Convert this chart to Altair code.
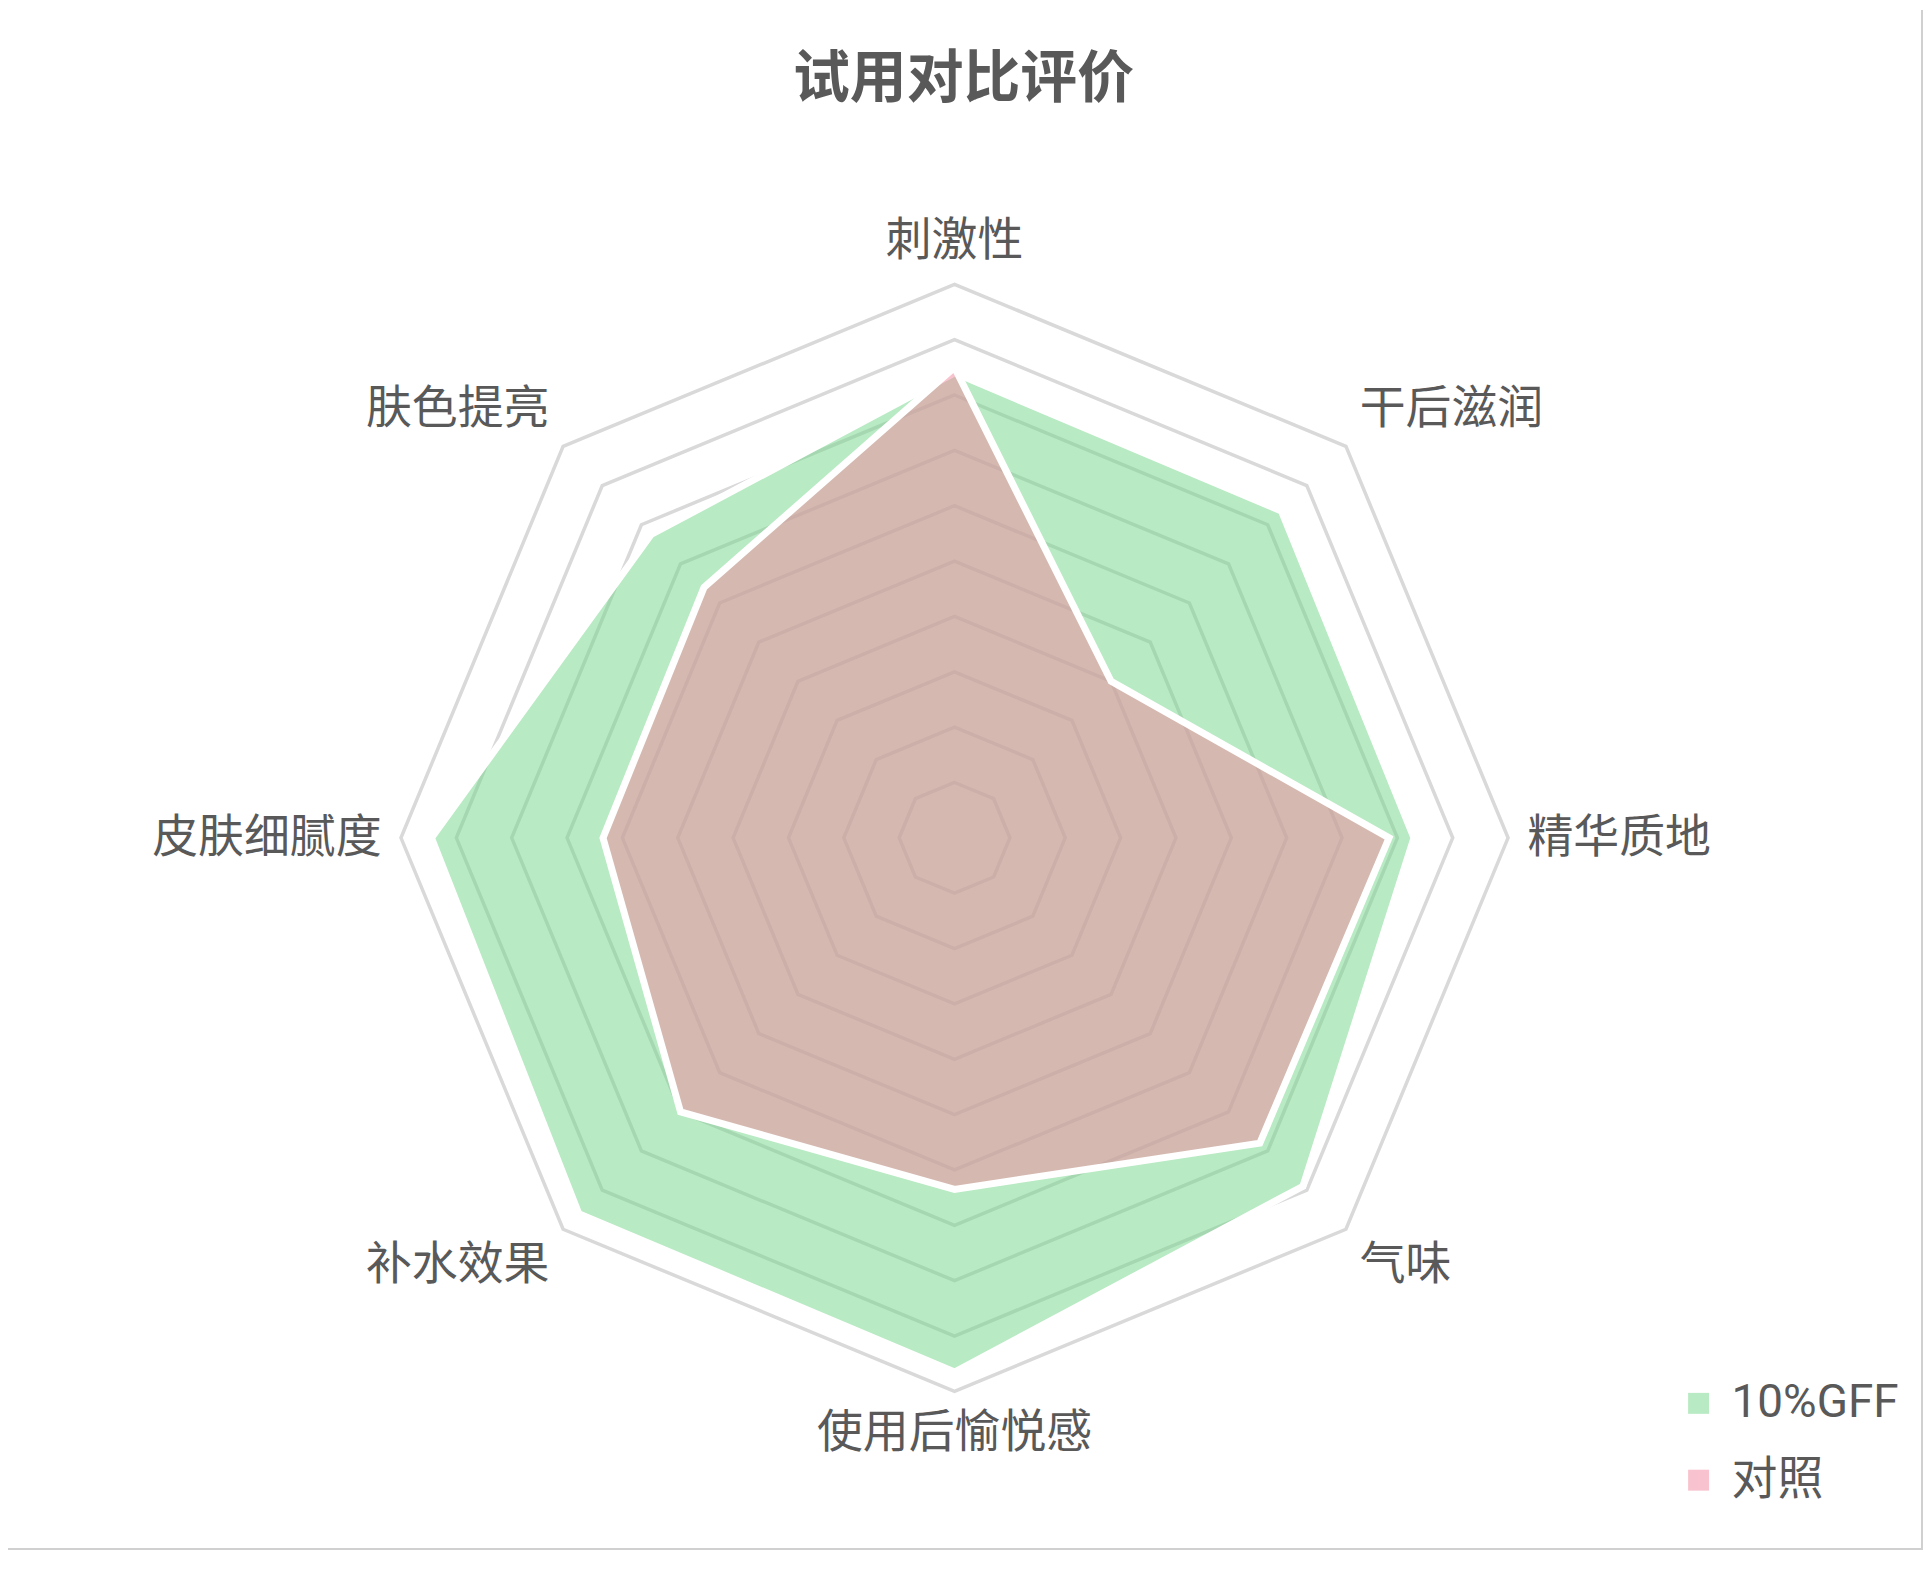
import altair as alt
import pandas as pd
import numpy as np

# ---- data ----
categories = ["刺激性", "干后滋润", "精华质地", "气味", "使用后愉悦感", "补水效果", "皮肤细腻度", "肤色提亮"]
series_names = ["10%GFF", "对照"]
gff_values = [8.4, 8.35, 8.3, 8.9, 9.65, 9.6, 9.45, 7.75]
control_values = [8.5, 4.0, 7.85, 7.8, 6.35, 7.0, 6.35, 6.4]
ring_levels = [1, 2, 3, 4, 5, 6, 7, 8, 9, 10]
title_text = "试用对比评价"

FONT = "Noto Sans CJK SC"
LEGEND_FONT = "Roboto, Noto Sans CJK SC"
TEXT_COLOR = "#595959"

n = len(categories)
angles = [2 * np.pi * i / n for i in range(n)]

# polygons for series
rows = []
for name, vals in zip(series_names, [gff_values, control_values]):
    for i, (a, v) in enumerate(zip(angles, vals)):
        rows.append({"series": name, "idx": i, "x": v * np.sin(a), "y": v * np.cos(a)})
series_df = pd.DataFrame(rows)

# grid rings
grid_rows = []
for lv in ring_levels:
    for i, a in enumerate(angles):
        grid_rows.append({"ring": lv, "idx": i, "x": lv * np.sin(a), "y": lv * np.cos(a)})
grid_df = pd.DataFrame(grid_rows)

# category labels
label_r = 10.35
lab_rows = []
for i, (a, c) in enumerate(zip(angles, categories)):
    s, co = np.sin(a), np.cos(a)
    align = "left" if s > 0.1 else ("right" if s < -0.1 else "center")
    baseline = "bottom" if co > 0.1 else ("top" if co < -0.1 else "middle")
    lab_rows.append({"cat": c, "x": label_r * s, "y": label_r * co, "align": align, "baseline": baseline})
label_df = pd.DataFrame(lab_rows)

# ---- scales (center of radar mapped into the canvas) ----
W, H = 1920, 1544
unit = 55.5
cx, cy = 949, 830
x_scale = alt.Scale(domain=[-cx / unit, (W - cx) / unit], nice=False, zero=False)
y_scale = alt.Scale(domain=[-(H - cy) / unit, cy / unit], nice=False, zero=False)

X = lambda: alt.X("x:Q", scale=x_scale, axis=None)
Y = lambda: alt.Y("y:Q", scale=y_scale, axis=None)

grid = alt.Chart(grid_df).mark_line(
    interpolate="linear-closed", stroke="#d9d9d9", strokeWidth=3.5
).encode(x=X(), y=Y(), order="idx:O", detail="ring:N")

polys = alt.Chart(series_df).mark_line(
    interpolate="linear-closed", fillOpacity=0.5, stroke="white", strokeWidth=7, strokeJoin="miter"
).encode(
    x=X(), y=Y(), order="idx:O",
    fill=alt.Fill(
        "series:N",
        scale=alt.Scale(domain=series_names, range=["#71d587", "#f2889f"]),
        legend=alt.Legend(
            orient="none", legendX=1672, legendY=1374, title=None,
            symbolType="square", symbolSize=441, symbolOpacity=0.5, symbolStrokeWidth=0,
            labelFontSize=46, labelFont=LEGEND_FONT, labelColor=TEXT_COLOR,
            rowPadding=31, labelOffset=10, padding=0, labelLimit=400,
        ),
    ),
)

label_layers = []
for _, r in label_df.iterrows():
    label_layers.append(
        alt.Chart(label_df[label_df["cat"] == r["cat"]]).mark_text(
            align=r["align"], baseline=r["baseline"], font=FONT, fontSize=46, color=TEXT_COLOR
        ).encode(x=X(), y=Y(), text="cat:N")
    )

title_df = pd.DataFrame({"t": [title_text]})
title = alt.Chart(title_df).mark_text(
    align="center", baseline="middle", font=FONT, fontSize=57, fontWeight="bold", color=TEXT_COLOR
).encode(x=alt.value(958), y=alt.value(70), text="t:N")

border_df = pd.DataFrame({"k": [0]})
border_r = alt.Chart(border_df).mark_rule(color="#d0d0d0", strokeWidth=2).encode(
    x=alt.value(W - 1), y=alt.value(0), y2=alt.value(H)
)
border_b = alt.Chart(border_df).mark_rule(color="#d0d0d0", strokeWidth=2).encode(
    x=alt.value(0), x2=alt.value(W), y=alt.value(H - 1)
)

chart = alt.layer(grid, polys, *label_layers, title, border_r, border_b).properties(
    width=W, height=H,
    autosize=alt.AutoSizeParams(type="none"),
    padding=0,
).configure_view(stroke=None)

chart.save("out.html", embed_options={"renderer": "svg", "actions": False})
